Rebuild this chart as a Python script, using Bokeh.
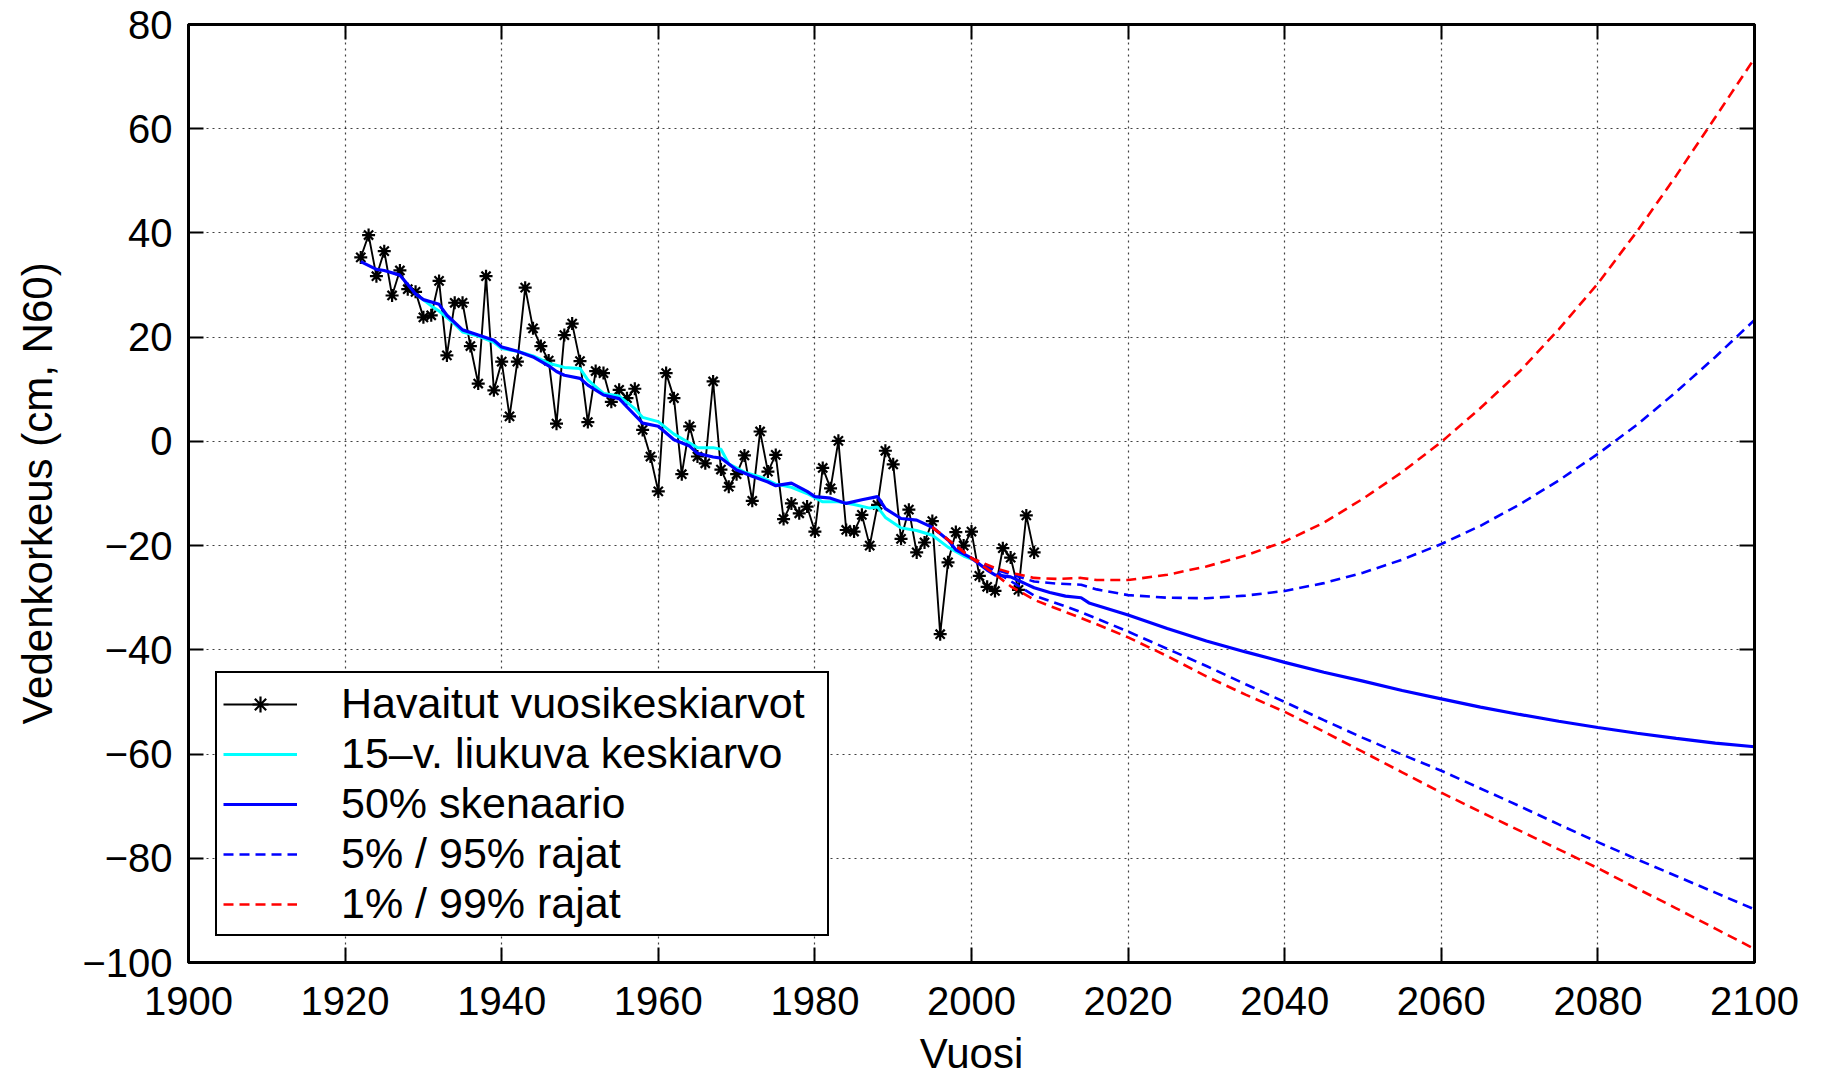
from bokeh.plotting import figure
from bokeh.models import (Legend, LegendItem, LinearAxis, FixedTicker,
                          CustomJSTickFormatter, Range1d)
from bokeh.embed import file_html
from bokeh.resources import INLINE

# ---------------- data ----------------
obs_years = list(range(1922, 2009))
obs_values = [35.3, 39.6, 31.7, 36.5, 28.0, 32.8, 29.2, 28.7, 23.8, 24.2,
              30.8, 16.5, 26.6, 26.6, 18.3, 11.1, 31.7, 9.8, 15.3, 4.8,
              15.3, 29.5, 21.7, 18.3, 15.5, 3.4, 20.4, 22.6, 15.4, 3.7,
              13.5, 13.1, 7.6, 9.9, 8.3, 10.1, 2.2, -2.9, -9.6, 13.1,
              8.3, -6.3, 2.9, -2.9, -4.2, 11.5, -5.4, -8.7, -6.3, -2.7,
              -11.4, 1.9, -5.8, -2.6, -14.9, -11.9, -13.8, -12.5, -17.3, -5.1,
              -9.0, 0.1, -17.0, -17.3, -14.1, -20.0, -12.2, -1.8, -4.4, -18.7,
              -13.1, -21.3, -19.4, -15.3, -37.0, -23.2, -17.4, -20.0, -17.3, -25.8,
              -27.9, -28.7, -20.5, -22.3, -28.5, -14.2, -21.3]

ma_years = [1929, 1931, 1932, 1934, 1935, 1937, 1939, 1940, 1942, 1944,
            1946, 1948, 1950, 1951, 1953, 1955, 1957, 1958, 1960, 1962,
            1964, 1965, 1967, 1968, 1969, 1971, 1973, 1975, 1977, 1979,
            1981, 1983, 1985, 1987, 1988, 1989, 1991, 1993, 1995, 1997,
            1999, 2000]
ma_values = [28.3, 26.0, 25.0, 22.5, 21.0, 20.2, 19.0, 17.8, 17.3, 16.4,
             15.0, 14.2, 14.0, 11.8, 9.2, 8.7, 6.3, 4.6, 3.8, 1.4,
             -0.3, -1.2, -1.2, -1.5, -4.3, -5.9, -6.8, -8.2, -8.8, -10.0,
             -11.6, -11.6, -12.1, -12.8, -12.6, -14.6, -16.6, -17.1, -18.0, -20.3,
             -22.0, -22.6]

med_years = [1922, 1924, 1925, 1927, 1928, 1929, 1930, 1932, 1933, 1935,
             1937, 1939, 1940, 1942, 1944, 1946, 1947, 1948, 1950, 1951,
             1953, 1955, 1956, 1958, 1960, 1962, 1964, 1965, 1967, 1968,
             1970, 1972, 1974, 1975, 1977, 1979, 1980, 1982, 1984, 1986,
             1988, 1989, 1991, 1993, 1995, 1997, 1998, 2000, 2002, 2003,
             2004, 2005, 2007, 2008, 2010, 2012, 2014, 2015, 2020, 2025,
             2030, 2035, 2040, 2045, 2050, 2055, 2060, 2065, 2070, 2075,
             2080, 2085, 2090, 2095, 2100]
med_values = [34.5, 33.0, 32.8, 31.9, 30.1, 28.3, 27.2, 26.3, 24.2, 21.4,
              20.4, 19.4, 18.1, 17.3, 16.2, 14.5, 13.4, 12.7, 12.1, 10.8,
              8.9, 8.2, 6.6, 3.5, 2.9, 0.3, -0.9, -2.3, -3.0, -3.2,
              -5.5, -6.7, -7.8, -8.5, -8.0, -9.6, -10.6, -10.9, -11.9, -11.2,
              -10.6, -12.9, -14.8, -15.1, -16.5, -18.9, -20.8, -22.4, -24.7, -25.6,
              -25.8, -26.0, -27.4, -28.1, -29.0, -29.7, -30.0, -31.0, -33.3, -35.9,
              -38.3, -40.4, -42.4, -44.3, -46.0, -47.8, -49.4, -51.0, -52.4, -53.7,
              -54.9, -56.0, -57.0, -57.9, -58.6]

b95_years = [1995, 2000, 2003, 2005, 2008, 2011, 2014, 2016, 2020, 2025,
             2030, 2035, 2040, 2045, 2050, 2055, 2060, 2065, 2070, 2075,
             2080, 2085, 2090, 2095, 2100]
b95_values = [-16.5, -22.4, -24.6, -25.5, -26.9, -27.3, -27.5, -28.4, -29.5, -30.0,
              -30.1, -29.6, -28.7, -27.2, -25.2, -22.7, -19.7, -16.2, -12.1, -7.5,
              -2.4, 3.2, 9.5, 16.2, 23.3]

b5_years = [1995, 2000, 2003, 2005, 2008, 2010, 2013, 2016, 2020, 2025,
            2030, 2035, 2040, 2045, 2050, 2055, 2060, 2065, 2070, 2075,
            2080, 2085, 2090, 2095, 2100]
b5_values = [-16.5, -22.4, -24.9, -26.8, -29.6, -30.6, -32.2, -34.0, -36.5, -39.8,
             -43.1, -46.6, -50.0, -53.5, -56.9, -60.1, -63.2, -66.6, -70.0, -73.5,
             -76.9, -80.2, -83.4, -86.6, -89.8]

r99_years = [1995, 2000, 2003, 2005, 2008, 2011, 2014, 2016, 2020, 2025,
             2030, 2035, 2040, 2045, 2050, 2055, 2060, 2065, 2070, 2075,
             2080, 2085, 2090, 2095, 2100]
r99_values = [-16.5, -22.4, -24.3, -25.2, -26.2, -26.4, -26.2, -26.6, -26.6, -25.6,
              -24.0, -21.9, -19.2, -15.6, -11.0, -5.9, -0.1, 6.4, 13.4, 21.5,
              30.3, 40.3, 51.0, 62.2, 73.5]

r1_years = [1995, 2000, 2003, 2005, 2008, 2010, 2013, 2016, 2020, 2025,
            2030, 2035, 2040, 2045, 2050, 2055, 2060, 2065, 2070, 2075,
            2080, 2085, 2090, 2095, 2100]
r1_values = [-16.5, -22.4, -25.5, -27.8, -30.4, -31.6, -33.3, -35.1, -37.6, -41.2,
             -45.1, -48.6, -51.9, -55.7, -59.6, -63.5, -67.4, -71.1, -74.7, -78.3,
             -81.9, -85.8, -89.6, -93.5, -97.4]

x_ticks = [1900, 1920, 1940, 1960, 1980, 2000, 2020, 2040, 2060, 2080, 2100]
y_ticks = [-100, -80, -60, -40, -20, 0, 20, 40, 60, 80]

labels = ["Havaitut vuosikeskiarvot", "15\u2013v. liukuva keskiarvo",
          "50% skenaario", "5% / 95% rajat", "1% / 99% rajat"]
x_title = "Vuosi"
y_title = "Vedenkorkeus (cm, N60)"

# ---------------- figure ----------------
FONT = "Liberation Sans"
p = figure(width=1816, height=1080, output_backend="svg", toolbar_location=None,
           x_range=Range1d(1900, 2100), y_range=Range1d(-100, 80),
           min_border_left=188, min_border_right=62, min_border_top=24,
           min_border_bottom=118, background_fill_color="white",
           border_fill_color="white")
p.outline_line_color = "black"
p.outline_line_width = 3

fmt = CustomJSTickFormatter(code="return tick < 0 ? '\u2212' + (-tick) : '' + tick;")

p.xaxis.ticker = FixedTicker(ticks=x_ticks)
p.yaxis.ticker = FixedTicker(ticks=y_ticks)
p.xaxis.formatter = fmt
p.yaxis.formatter = fmt
p.xaxis.axis_label = x_title
p.yaxis.axis_label = y_title

for ax in (p.xaxis[0], p.yaxis[0]):
    ax.axis_line_width = 3
    ax.axis_line_color = "black"
    ax.major_tick_in = 15
    ax.major_tick_out = 0
    ax.major_tick_line_width = 2
    ax.minor_tick_line_color = None
    ax.major_label_text_font = FONT
    ax.major_label_text_font_size = "40px"
    ax.major_label_text_color = "black"
    ax.axis_label_text_font = FONT
    ax.axis_label_text_font_size = "42px"
    ax.axis_label_text_font_style = "normal"
    ax.axis_label_text_color = "black"
p.xaxis.major_label_standoff = 24
p.yaxis.major_label_standoff = 16
p.xaxis.axis_label_standoff = 12
p.yaxis.axis_label_standoff = 18

# mirrored axes (right, top) with inward ticks; their labels are not drawn
for side in ("right", "above"):
    ax = LinearAxis(ticker=FixedTicker(ticks=y_ticks if side == "right" else x_ticks),
                    major_label_text_font_size="1px", major_label_text_color=None,
                    major_label_standoff=0,
                    axis_line_width=3, axis_line_color="black",
                    major_tick_in=15, major_tick_out=0, major_tick_line_width=2,
                    minor_tick_line_color=None)
    p.add_layout(ax, side)

p.xgrid.ticker = FixedTicker(ticks=x_ticks)
p.ygrid.ticker = FixedTicker(ticks=y_ticks)
for g in (p.xgrid[0], p.ygrid[0]):
    g.grid_line_color = "black"
    g.grid_line_alpha = 0.75
    g.grid_line_width = 1.2
    g.grid_line_dash = "2 4"

# ---------------- glyphs ----------------
r_obs_line = p.line(obs_years, obs_values, line_color="black", line_width=1.9)
r_obs_pts = p.scatter(obs_years, obs_values, marker="asterisk", size=13,
                      line_color="black", line_width=2.2)
r_ma = p.line(ma_years, ma_values, line_color="#00FFFF", line_width=3)
r_med = p.line(med_years, med_values, line_color="#0000FF", line_width=3.2)
r_b95 = p.line(b95_years, b95_values, line_color="#0000FF", line_width=2.6, line_dash="10 6")
r_b5 = p.line(b5_years, b5_values, line_color="#0000FF", line_width=2.6, line_dash="10 6")
r_r99 = p.line(r99_years, r99_values, line_color="#FF0000", line_width=2.6, line_dash="10 6")
r_r1 = p.line(r1_years, r1_values, line_color="#FF0000", line_width=2.6, line_dash="10 6")

legend = Legend(items=[
    LegendItem(label=labels[0], renderers=[r_obs_line, r_obs_pts]),
    LegendItem(label=labels[1], renderers=[r_ma]),
    LegendItem(label=labels[2], renderers=[r_med]),
    LegendItem(label=labels[3], renderers=[r_b95]),
    LegendItem(label=labels[4], renderers=[r_r99]),
], location=(27, 26))
legend.label_text_font = FONT
legend.label_text_font_size = "43px"
legend.label_text_color = "black"
legend.border_line_color = "black"
legend.border_line_alpha = 1
legend.border_line_width = 2.5
legend.background_fill_color = "white"
legend.background_fill_alpha = 1
legend.padding = 6
legend.margin = 0
legend.spacing = 1
legend.label_height = 40
legend.label_width = 480
legend.glyph_height = 40
legend.glyph_width = 74
legend.label_standoff = 44
p.add_layout(legend, "center")

open("out.html", "w").write(file_html(p, INLINE))
